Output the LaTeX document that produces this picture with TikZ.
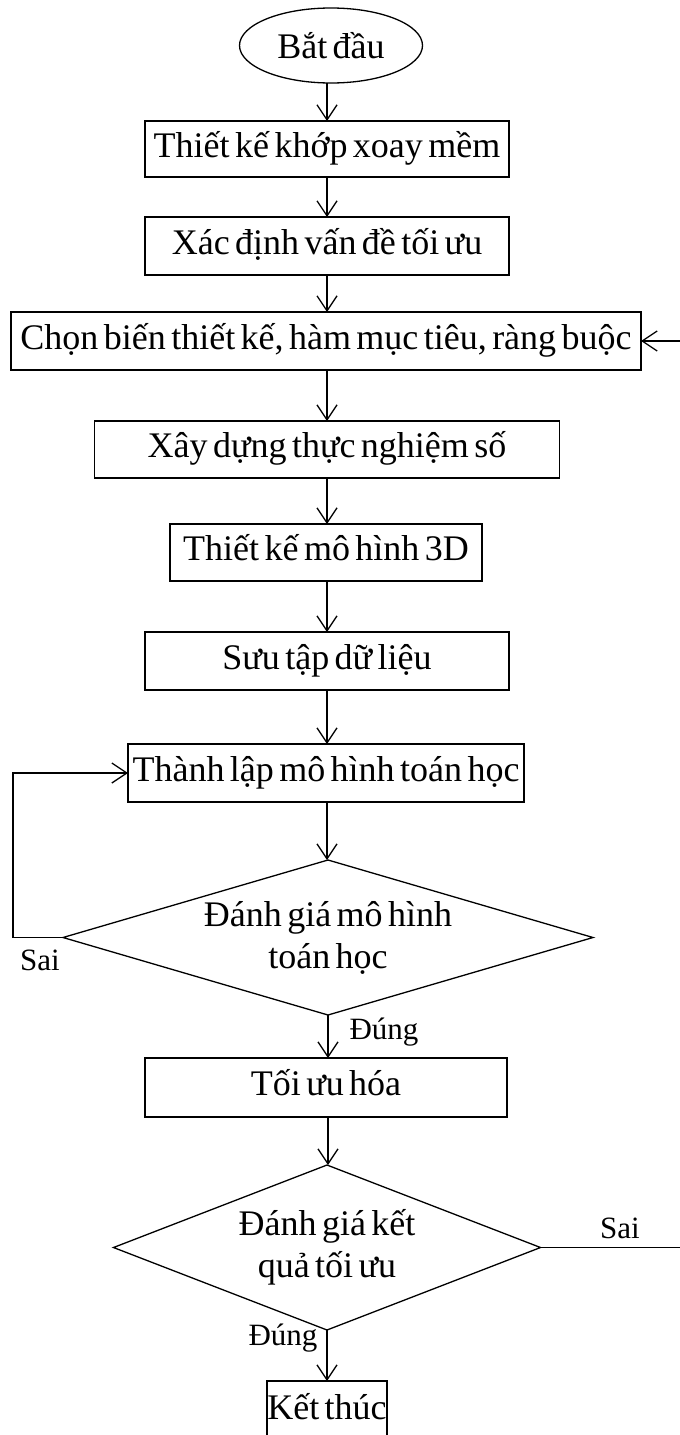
\documentclass[tikz,border=0pt]{standalone}
\usepackage{fontspec}
\setmainfont{Liberation Serif}[WordSpace=0.6]
\usetikzlibrary{shapes.geometric,arrows.meta}
\begin{document}
\begin{tikzpicture}[x=1pt,y=-1pt,
  every node/.style={inner sep=0pt,outer sep=0pt},
  txt/.style={font=\fontsize{36}{42}\selectfont},
  lbl/.style={font=\fontsize{31}{34}\selectfont},
  stepbox/.style={txt,draw,line width=1.3pt,rectangle,minimum height=#1,text height=25pt,text depth=9pt},
  stepbox/.default=57pt,
  decision/.style={txt,rectangle,align=center},
  dshape/.style={line width=1.3pt,line join=miter},
  arr/.style={line width=1.3pt,-{Straight Barb[length=15pt,width=20pt,line width=1.3pt]}},
  ln/.style={line width=1.3pt}]
\useasboundingbox (0,0) rectangle (680,1435);
\clip (0,0) rectangle (680,1435);
\fill[white] (0,0) rectangle (680,1435);

\node[txt,draw,line width=1.3pt,ellipse,minimum width=183pt,minimum height=75pt] (start) at (331,45.5) {Bắt đầu};
\node[stepbox=56pt,minimum width=364pt] (b1) at (327,149) {Thiết kế khớp xoay mềm};
\node[stepbox=58pt,minimum width=364pt] (b2) at (327,246) {Xác định vấn đề tối ưu};
\node[stepbox=58pt,minimum width=630pt] (b3) at (326,341) {Chọn biến thiết kế, hàm mục tiêu, ràng buộc};
\node[stepbox=57pt,minimum width=465pt] (b4) at (327,449.5) {Xây dựng thực nghiệm số};
\node[stepbox=57pt,minimum width=312pt] (b5) at (326,552.5) {Thiết kế mô hình 3D};
\node[stepbox=58pt,minimum width=364pt] (b6) at (327,661) {Sưu tập dữ liệu};
\node[stepbox=58pt,minimum width=396pt] (b7) at (326,773) {Thành lập mô hình toán học};
\node[decision,minimum width=530pt,minimum height=155pt] (d1) at (328,937.5) {Đánh giá mô hình\\toán học};
\draw[dshape] (d1.north) -- (d1.east) -- (d1.south) -- (d1.west) -- cycle;
\node[stepbox=59pt,minimum width=362pt] (b8) at (326,1087.5) {Tối ưu hóa};
\node[decision,minimum width=427pt,minimum height=165pt] (d2) at (327,1247.5) {Đánh giá kết\\quả tối ưu};
\draw[dshape] (d2.north) -- (d2.east) -- (d2.south) -- (d2.west) -- cycle;
\node[stepbox=60pt,minimum width=120pt] (b9) at (327,1411) {Kết thúc};

\node[lbl] (sai1) at (40,960) {Sai};
\node[lbl] (dung1) at (384,1032) {Đúng};
\node[lbl] (sai2) at (620,1228) {Sai};
\node[lbl] (dung2) at (283,1338) {Đúng};

\coordinate (lt) at (13,0);
\coordinate (rt) at (683,0);

\draw[arr] (b1.north |- start.south) -- (b1.north);
\draw[arr] (b1.south) -- (b2.north);
\draw[arr] (b2.south) -- (b2.south |- b3.north);
\draw[arr] (b2.south |- b3.south) -- (b2.south |- b4.north);
\draw[arr] (b4.south) -- (b4.south |- b5.north);
\draw[arr] (b4.south |- b5.south) -- (b4.south |- b6.north);
\draw[arr] (b6.south) -- (b6.south |- b7.north);
\draw[arr] (b6.south |- b7.south) -- (b6.south |- d1.north);
\draw[arr] (d1.south) -- (d1.south |- b8.north);
\draw[arr] (d1.south |- b8.south) -- (d1.south |- d2.north);
\draw[arr] (d2.south) -- (d2.south |- b9.north);
\draw[arr] (d1.west) -- (d1.west -| lt) |- (b7.west);
\draw[arr] (d2.east) -- (d2.east -| rt) |- (b3.east);
\end{tikzpicture}
\end{document}
